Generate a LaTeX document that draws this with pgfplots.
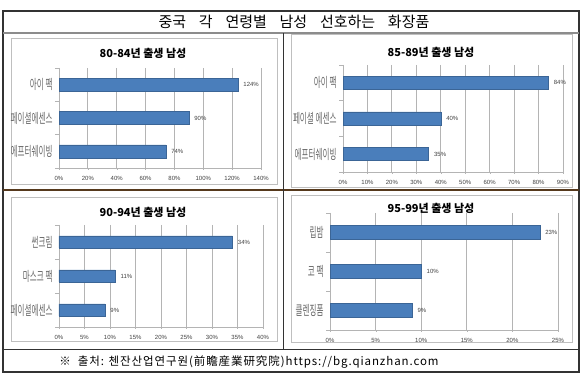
\documentclass[border=0pt]{standalone}
\usepackage{pgfplots}
\pgfplotsset{compat=1.18}
\usepackage{fontspec}
\setmainfont{Liberation Sans}
\newfontfamily\kr{Noto Sans CJK KR}
\newfontfamily\krc[FakeStretch=0.56]{Noto Sans CJK KR}
\newfontfamily\krw[LetterSpace=8]{Noto Sans CJK KR}
\definecolor{barblue}{HTML}{4A7EBB}
\definecolor{gridg}{HTML}{B4B4B4}
\pgfplotsset{
  excelbar/.style={
    scale only axis, xbar, xmin=0, ymin=0.5, ymax=3.5, y dir=reverse,
    axis x line*=bottom, axis y line*=left,
    axis line style={gridg, line width=0.8pt},
    ytick={1,2,3}, major y tick style={draw=none},
    minor ytick={0.5,1.5,2.5,3.5}, minor tick length=4pt,
    minor y tick style={gridg, line width=0.8pt},
    tick align=outside, major tick length=2pt,
    major x tick style={gridg},
    xmajorgrids, grid style={gridg, line width=0.8pt},
    /pgf/number format/assume math mode=true,
    xticklabel={\pgfmathprintnumber{\tick}\%},
    x tick label style={font=\fontsize{6}{7}\selectfont, text=black!75, yshift=-3pt},
    y tick label style={font=\krc\fontsize{13.5}{14}\selectfont, text=black!60, xshift=-1pt},
    nodes near coords={\pgfmathprintnumber{\pgfplotspointmeta}\%},
    nodes near coords style={font=\fontsize{6}{7}\selectfont, text=black!75, xshift=2pt},
    point meta=x,
  },
  barsty/.style={draw=barblue!80!black, fill=barblue, line width=0.4pt},
}
\begin{document}
\begin{tikzpicture}[x=1pt,y=1pt]
\useasboundingbox (0,0) rectangle (587,380);
% outer frame
\draw[black!80, line width=1.1pt] (3,369) rectangle (579,8);
\draw[black!45, line width=1.2pt] (3,347) -- (579,347);
\draw[black!55!brown, line width=1.3pt] (3,190) -- (579,190);
\draw[black!80, line width=1.0pt] (3,30) -- (579,30);
\draw[black!80, line width=1.0pt] (283,347) -- (283,30);
% chart boxes
\draw[black!25, line width=1pt] (11,341) rectangle (277,195);
\draw[black!25, line width=1pt] (291,345) rectangle (572,192);
\draw[black!25, line width=1pt] (11,182) rectangle (277,38);
\draw[black!25, line width=1pt] (291,184) rectangle (572,37);
% titles
\node[font=\kr\fontsize{15}{17}\selectfont] at (294,358) {중국\hspace{0.85em}각\hspace{0.85em}연령별\hspace{0.85em}남성\hspace{0.85em}선호하는\hspace{0.85em}화장품};
\node[font=\krw\fontsize{11.5}{13}\selectfont] at (249,18) {※\hspace{0.6em}출처:\hspace{0.4em}첸잔산업연구원(前瞻産業研究院)https://bg.qianzhan.com};
\node[font=\kr\bfseries\fontsize{11}{13}\selectfont] at (143,327) {80-84년 출생 남성};
\node[font=\kr\bfseries\fontsize{11}{13}\selectfont] at (431,328) {85-89년 출생 남성};
\node[font=\kr\bfseries\fontsize{11}{13}\selectfont] at (143,168) {90-94년 출생 남성};
\node[font=\kr\bfseries\fontsize{11}{13}\selectfont] at (431,172) {95-99년 출생 남성};
% chart 1
\begin{axis}[excelbar, at={(59pt,212pt)}, anchor=south west, width=202pt, height=100pt,
  xmax=140, xtick={0,20,...,140}, bar width=13pt,
  yticklabels={아이 팩, 페이셜에센스, 에프터쉐이빙}]
\addplot[barsty] coordinates {(124,1) (90,2) (74,3)};
\end{axis}
% chart 2
\begin{axis}[excelbar, at={(343pt,208pt)}, anchor=south west, width=220pt, height=107pt,
  xmax=90, xtick={0,10,...,90}, bar width=13pt,
  yticklabels={아이 팩, 페이셜 에센스, 에프터쉐이빙}]
\addplot[barsty] coordinates {(84,1) (40,2) (35,3)};
\end{axis}
% chart 3
\begin{axis}[excelbar, at={(59pt,53pt)}, anchor=south west, width=204pt, height=102pt,
  xmax=40, xtick={0,5,...,40}, bar width=12pt,
  yticklabels={썬크림, 마스크 팩, 페이셜에센스}]
\addplot[barsty] coordinates {(34,1) (11,2) (9,3)};
\end{axis}
% chart 4
\begin{axis}[excelbar, at={(330pt,50pt)}, anchor=south west, width=228pt, height=117pt,
  xmax=25, xtick={0,5,...,25}, bar width=14pt,
  yticklabels={립밤, 코 팩, 클렌징폼}]
\addplot[barsty] coordinates {(23,1) (10,2) (9,3)};
\end{axis}
\end{tikzpicture}
\end{document}
